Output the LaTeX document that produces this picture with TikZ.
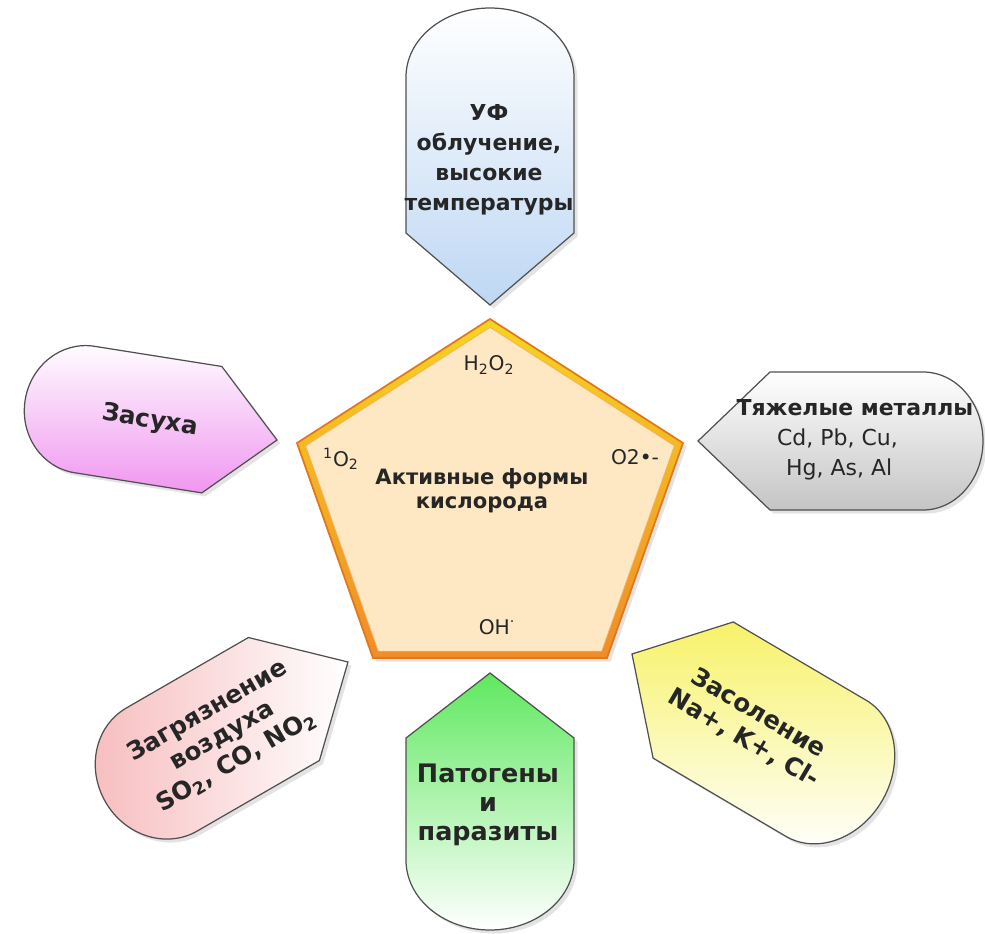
\documentclass[tikz,border=0pt]{standalone}
\usepackage{fontspec}
\setmainfont{DejaVu Sans}
\usetikzlibrary{shadows}
\definecolor{uvBlue}{RGB}{190,215,243}
\definecolor{dryPink}{RGB}{240,150,240}
\definecolor{metalGray}{RGB}{196,196,196}
\definecolor{airPink}{RGB}{247,188,190}
\definecolor{saltYellow}{RGB}{247,242,105}
\definecolor{pathGreen}{RGB}{95,232,95}
\definecolor{rosPeach}{RGB}{254,232,196}
\definecolor{rosYellow}{RGB}{246,212,30}
\definecolor{rosOrange}{RGB}{240,140,40}
\definecolor{rosEdge}{RGB}{225,120,30}
\definecolor{inkline}{RGB}{80,80,80}
% display shape: style, tip, direction of body, length, half height, tip length, round depth
\newcommand{\dispshape}[7]{%
  \begin{scope}[shift={#2},rotate=#3]
    \path[#1] (0,0) -- (#6,-#5) -- ({#4-#7},-#5)
      arc[start angle=-90,end angle=90,x radius=#7,y radius=#5]
      -- (#6,#5) -- cycle;
  \end{scope}}
\newcommand{\pentpath}{(490,319) -- (683,443) -- (607,658) -- (373,658) -- (297,443) -- cycle}

\begin{document}
\begin{tikzpicture}[x=0.02cm,y=-0.02cm,
  dbox/.style={draw=inkline,line width=0.7pt,
               drop shadow={opacity=0.22,shadow xshift=2pt,shadow yshift=-2pt}},
  lbl/.style={font=\fontsize{12.5}{17}\selectfont\bfseries,align=center,text=black!85},
  tilt/.style={font=\fontsize{14}{16.5}\selectfont\bfseries,align=center,text=black!85},
  spc/.style={font=\fontsize{11.5}{13}\selectfont,text=black!85}]
  \useasboundingbox (0,0) rectangle (985,934);
  % reactive oxygen pentagon
  \path[top color=rosYellow,bottom color=rosOrange,draw=rosEdge,line width=1pt,
        drop shadow={opacity=0.22,shadow xshift=2pt,shadow yshift=-2pt}] \pentpath;
  \begin{scope}[scale around={0.955:(490,505)}]
    \path[fill=rosPeach,draw=rosOrange!70,line width=0.4pt] \pentpath;
  \end{scope}
  % stress factors
  \dispshape{dbox,top color=white,bottom color=uvBlue}{(490,305)}{90}{297}{84}{72}{69}
  \dispshape{dbox,top color=pathGreen,bottom color=white}{(490,673)}{-90}{257}{84}{65}{70}
  \dispshape{dbox,top color=white,bottom color=metalGray}{(698,441)}{0}{285}{69}{72}{60}
  \dispshape{dbox,top color=white,bottom color=dryPink}{(277,440)}{171}{255}{64}{66}{60}
  \dispshape{dbox,left color=airPink,right color=white}{(348,662)}{210}{280}{71}{74}{65}
  \dispshape{dbox,top color=saltYellow,bottom color=white}{(632,654)}{-30.5}{290}{79}{71}{65}
  \node[lbl] (uvtxt) at (489,160) {УФ\\облучение,\\высокие\\температуры};
  \node[tilt,rotate=-9] (drytxt) at (150,421) {Засуха};
  \node[lbl] (metaltxt) at (855,440)
    {Тяжелые металлы\\{\mdseries Cd, Pb, Cu,}\hspace*{20pt}\null\\{\mdseries Hg, As, Al}\hspace*{18pt}\null};
  \node[tilt,rotate=30] (airtxt) at (222,736)
    {Загрязнение\\воздуха\\SO\textsubscript{2}, CO, NO\textsubscript{2}};
  \node[tilt,rotate=-30.5] (salttxt) at (751,726) {Засоление\\Na+, K+, Cl-};
  \node[lbl,font=\fontsize{14.5}{16.5}\selectfont\bfseries] (pathtxt) at (488,805) {Патогены\\и\\паразиты};
  % species inside
  \node[spc] (h2o2) at (489,365) {H\textsubscript{2}O\textsubscript{2}};
  \node[spc] (singlet) at (341,459) {\textsuperscript{1}O\textsubscript{2}};
  \node[spc] (superox) at (635,457) {O2•-};
  \node[spc] (hydrox) at (497,627) {OH\textsuperscript{·}};
  \node[font=\fontsize{12}{13.5}\selectfont\bfseries,align=center,text=black!85] (ros) at (482,491)
    {Активные формы\\кислорода};
\end{tikzpicture}
\end{document}
